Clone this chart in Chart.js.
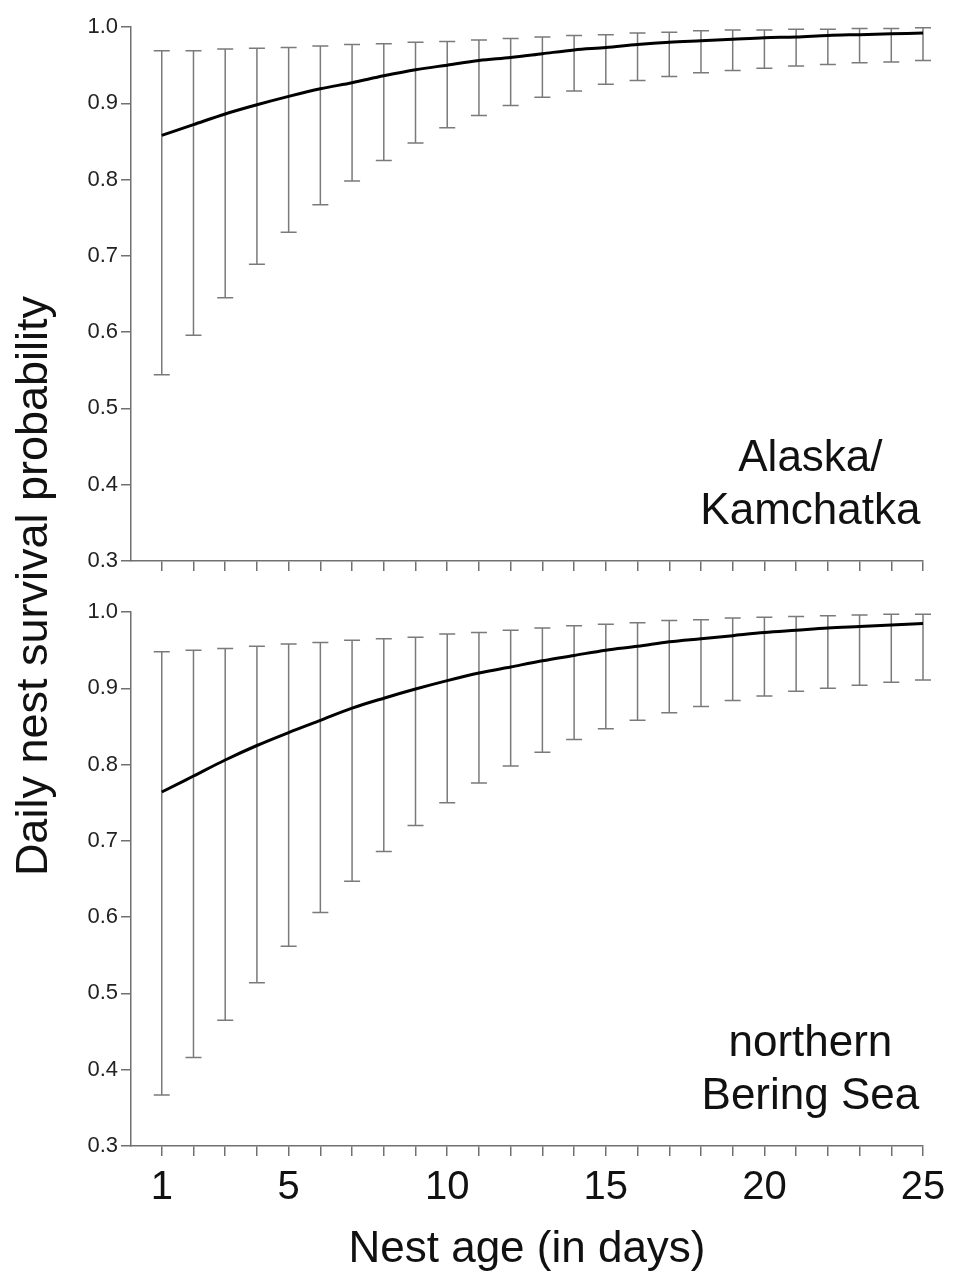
<!DOCTYPE html>
<html>
<head>
<meta charset="utf-8">
<script src="https://cdn.jsdelivr.net/npm/chart.js@4.4.0/dist/chart.umd.min.js"></script>
<style>
  html, body { margin: 0; padding: 0; background: #fff; }
  #wrap { position: relative; width: 956px; height: 1284px; overflow: hidden; }
  #painel-topo { position: absolute; left: 0; top: 0; width: 956px; height: 590px; }
  #painel-base { position: absolute; left: 0; top: 590px; width: 956px; height: 694px; }
  #titulo-y {
    position: absolute; left: -318px; top: 561px; width: 700px; height: 50px;
    line-height: 50px; text-align: center; transform: rotate(-90deg);
    font-family: 'Liberation Sans', Arial, sans-serif; font-size: 45px; color: #111;
  }
</style>
</head>
<body>
<div id="wrap">
  <div id="painel-topo"><canvas id="grafico-topo"></canvas></div>
  <div id="painel-base"><canvas id="grafico-base"></canvas></div>
  <div id="titulo-y">Daily nest survival probability</div>
</div>
<script>
// Idade do ninho (dias)
const days = [1, 2, 3, 4, 5, 6, 7, 8, 9, 10, 11, 12, 13, 14, 15, 16, 17, 18, 19, 20, 21, 22, 23, 24, 25];
const labelDays = [1, 5, 10, 15, 20, 25];

// Alaska/Kamchatka
const alaskaMean  = [0.858, 0.872, 0.886, 0.898, 0.909, 0.919, 0.927, 0.936, 0.944, 0.950, 0.956, 0.960, 0.965, 0.970, 0.973, 0.977, 0.980, 0.982, 0.984, 0.986, 0.987, 0.989, 0.990, 0.991, 0.992];
const alaskaUpper = [0.969, 0.969, 0.971, 0.972, 0.973, 0.975, 0.977, 0.978, 0.980, 0.981, 0.983, 0.985, 0.987, 0.989, 0.990, 0.992, 0.993, 0.995, 0.996, 0.996, 0.997, 0.997, 0.998, 0.998, 0.999];
const alaskaLower = [0.544, 0.596, 0.645, 0.689, 0.731, 0.767, 0.798, 0.825, 0.848, 0.868, 0.884, 0.897, 0.908, 0.916, 0.925, 0.930, 0.935, 0.940, 0.943, 0.946, 0.949, 0.951, 0.953, 0.954, 0.956];

// northern Bering Sea
const beringMean  = [0.764, 0.785, 0.806, 0.825, 0.842, 0.858, 0.874, 0.887, 0.899, 0.910, 0.920, 0.928, 0.936, 0.943, 0.950, 0.955, 0.961, 0.965, 0.969, 0.973, 0.976, 0.979, 0.981, 0.983, 0.985];
const beringUpper = [0.948, 0.950, 0.952, 0.955, 0.958, 0.960, 0.963, 0.965, 0.967, 0.971, 0.973, 0.976, 0.979, 0.982, 0.984, 0.986, 0.989, 0.990, 0.992, 0.993, 0.994, 0.995, 0.996, 0.997, 0.997];
const beringLower = [0.367, 0.416, 0.465, 0.514, 0.562, 0.606, 0.647, 0.686, 0.720, 0.750, 0.776, 0.798, 0.816, 0.833, 0.847, 0.858, 0.868, 0.876, 0.884, 0.890, 0.896, 0.900, 0.904, 0.908, 0.911];

const FONTE = "'Liberation Sans', Arial, sans-serif";
const CINZA_EIXO = '#707070';
const CINZA_BARRA = '#7a7a7a';

// Barras de erro (IC) desenhadas pelas escalas do gráfico
const barrasErro = {
    id: 'barrasErro',
    beforeDatasetsDraw(chart, args, opts) {
        const { ctx, scales: { x, y } } = chart;
        ctx.save();
        ctx.strokeStyle = CINZA_BARRA;
        ctx.lineWidth = 1.5;
        opts.lower.forEach((lo, i) => {
            const px = x.getPixelForValue(days[i]);
            const yLo = y.getPixelForValue(lo);
            const yHi = y.getPixelForValue(opts.upper[i]);
            ctx.beginPath();
            ctx.moveTo(px, yLo); ctx.lineTo(px, yHi);
            ctx.moveTo(px - 8, yLo); ctx.lineTo(px + 8, yLo);
            ctx.moveTo(px - 8, yHi); ctx.lineTo(px + 8, yHi);
            ctx.stroke();
        });
        ctx.restore();
    }
};

// Nome da região dentro do painel
const rotuloRegiao = {
    id: 'rotuloRegiao',
    afterDraw(chart, args, opts) {
        const { ctx, scales: { x, y } } = chart;
        ctx.save();
        ctx.fillStyle = '#111';
        ctx.font = '44px ' + FONTE;
        ctx.textAlign = 'center';
        ctx.textBaseline = 'alphabetic';
        opts.lines.forEach((txt, i) => {
            ctx.fillText(txt, x.getPixelForValue(opts.x), y.getPixelForValue(opts.y[i]));
        });
        ctx.restore();
    }
};

function criarPainel(canvasId, mean, lower, upper, linhas, inferior) {
    const ctx = document.getElementById(canvasId).getContext('2d');
    return new Chart(ctx, {
        type: 'line',
        data: {
            datasets: [{
                data: days.map((d, i) => ({ x: d, y: mean[i] })),
                borderColor: '#000',
                borderWidth: 3,
                pointRadius: 0,
                cubicInterpolationMode: 'monotone',
                fill: false
            }]
        },
        options: {
            responsive: true,
            maintainAspectRatio: false,
            animation: false,
            layout: { padding: { left: 0, right: 33, top: inferior ? 22 : 27, bottom: 0 } },
            plugins: {
                legend: { display: false },
                tooltip: { enabled: false },
                barrasErro: { lower: lower, upper: upper },
                rotuloRegiao: { lines: linhas, x: 21.45, y: [0.418, 0.348] }
            },
            scales: {
                x: {
                    type: 'linear',
                    min: 0.03,
                    max: 25,
                    afterBuildTicks: s => { s.ticks = days.map(v => ({ value: v })); },
                    afterFit: s => { s.height = inferior ? 138 : 29; },
                    grid: { drawOnChartArea: false, drawTicks: true, tickLength: 10, color: CINZA_EIXO, lineWidth: 1.5 },
                    border: { display: true, color: CINZA_EIXO, width: 1.5 },
                    ticks: {
                        display: inferior,
                        autoSkip: false,
                        maxRotation: 0,
                        padding: 8,
                        color: '#111',
                        font: { family: FONTE, size: 40 },
                        callback: v => labelDays.includes(v) ? String(v) : ''
                    },
                    title: {
                        display: inferior,
                        text: 'Nest age (in days)',
                        color: '#111',
                        font: { family: FONTE, size: 44 },
                        padding: { top: 0, bottom: 8 }
                    }
                },
                y: {
                    min: 0.3,
                    max: 1.0,
                    afterFit: s => { s.width = 131; },
                    grid: { drawOnChartArea: false, drawTicks: true, tickLength: 10, color: CINZA_EIXO, lineWidth: 1.5 },
                    border: { display: true, color: CINZA_EIXO, width: 1.5 },
                    ticks: {
                        stepSize: 0.1,
                        padding: 3,
                        color: '#222',
                        font: { family: FONTE, size: 22 },
                        callback: v => v.toFixed(1)
                    }
                }
            }
        },
        plugins: [barrasErro, rotuloRegiao]
    });
}

criarPainel('grafico-topo', alaskaMean, alaskaLower, alaskaUpper, ['Alaska/', 'Kamchatka'], false);
criarPainel('grafico-base', beringMean, beringLower, beringUpper, ['northern', 'Bering Sea'], true);
</script>
</body>
</html>
